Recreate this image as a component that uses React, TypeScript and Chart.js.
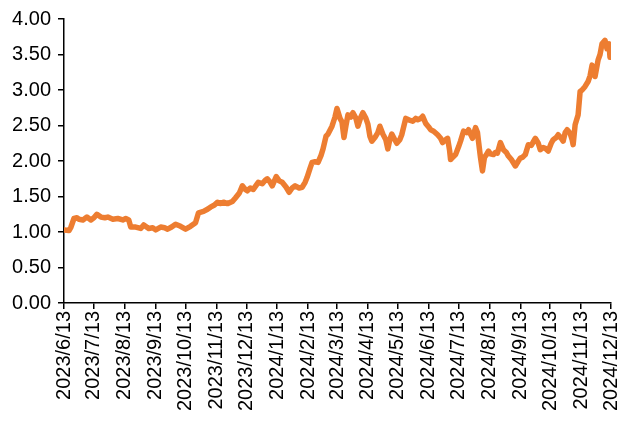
import React, { useEffect, useRef } from 'react';
import { Chart, registerables } from 'chart.js';

Chart.register(...registerables);

const dates = [
  '2023/6/13', '2023/6/18', '2023/6/20', '2023/6/23', '2023/6/26', '2023/6/28',
  '2023/7/2', '2023/7/6', '2023/7/10', '2023/7/13', '2023/7/16', '2023/7/20', '2023/7/24', '2023/7/27',
  '2023/8/1', '2023/8/6', '2023/8/11', '2023/8/14', '2023/8/17', '2023/8/19', '2023/8/24', '2023/8/29',
  '2023/9/1', '2023/9/6', '2023/9/10', '2023/9/13', '2023/9/18', '2023/9/22', '2023/9/25', '2023/9/29',
  '2023/10/3', '2023/10/8', '2023/10/13', '2023/10/18', '2023/10/23', '2023/10/26', '2023/10/31',
  '2023/11/4', '2023/11/7', '2023/11/11', '2023/11/14', '2023/11/17', '2023/11/20', '2023/11/24', '2023/11/29',
  '2023/12/2', '2023/12/6', '2023/12/9', '2023/12/12', '2023/12/14', '2023/12/17', '2023/12/20', '2023/12/23', '2023/12/25', '2023/12/29',
  '2024/1/1', '2024/1/3', '2024/1/6', '2024/1/8', '2024/1/12', '2024/1/15', '2024/1/18', '2024/1/22', '2024/1/25', '2024/1/28', '2024/1/31',
  '2024/2/4', '2024/2/7', '2024/2/10', '2024/2/12', '2024/2/15', '2024/2/17', '2024/2/20', '2024/2/23', '2024/2/26', '2024/2/28',
  '2024/3/2', '2024/3/4', '2024/3/8', '2024/3/11', '2024/3/13', '2024/3/16', '2024/3/18', '2024/3/20', '2024/3/22', '2024/3/24', '2024/3/27', '2024/3/29',
  '2024/4/1', '2024/4/3', '2024/4/6', '2024/4/8', '2024/4/11', '2024/4/13', '2024/4/15', '2024/4/17', '2024/4/20', '2024/4/23', '2024/4/25', '2024/4/28',
  '2024/5/1', '2024/5/3', '2024/5/5', '2024/5/7', '2024/5/10', '2024/5/12', '2024/5/15', '2024/5/17', '2024/5/21', '2024/5/24', '2024/5/28', '2024/5/31',
  '2024/6/2', '2024/6/5', '2024/6/7', '2024/6/10', '2024/6/13', '2024/6/15', '2024/6/18', '2024/6/22', '2024/6/25', '2024/6/27', '2024/6/30',
  '2024/7/2', '2024/7/4', '2024/7/5', '2024/7/7', '2024/7/10', '2024/7/13', '2024/7/15', '2024/7/18', '2024/7/21', '2024/7/23', '2024/7/25', '2024/7/27', '2024/7/30',
  '2024/8/1', '2024/8/2', '2024/8/4', '2024/8/6', '2024/8/8', '2024/8/10', '2024/8/12', '2024/8/14', '2024/8/17', '2024/8/19', '2024/8/21', '2024/8/24', '2024/8/27', '2024/8/30',
  '2024/9/1', '2024/9/4', '2024/9/8', '2024/9/11', '2024/9/13', '2024/9/15', '2024/9/18', '2024/9/21', '2024/9/24', '2024/9/28',
  '2024/10/1', '2024/10/3', '2024/10/6', '2024/10/8', '2024/10/11', '2024/10/14', '2024/10/16', '2024/10/19', '2024/10/21', '2024/10/24', '2024/10/26', '2024/10/28', '2024/10/30',
  '2024/11/2', '2024/11/4', '2024/11/5', '2024/11/7', '2024/11/10', '2024/11/12', '2024/11/14', '2024/11/17', '2024/11/20', '2024/11/22', '2024/11/24', '2024/11/27', '2024/11/30',
  '2024/12/2', '2024/12/4', '2024/12/7', '2024/12/9', '2024/12/11', '2024/12/12',
];

const values = [
  1.03, 1.02, 1.07, 1.19, 1.20, 1.18,
  1.17, 1.21, 1.17, 1.20, 1.25, 1.21, 1.20, 1.21,
  1.18, 1.19, 1.17, 1.19, 1.17, 1.07, 1.07, 1.05,
  1.10, 1.05, 1.06, 1.03, 1.07, 1.06, 1.04, 1.07,
  1.11, 1.08, 1.04, 1.08, 1.13, 1.27, 1.29,
  1.32, 1.35, 1.38, 1.42, 1.40, 1.42, 1.40, 1.43,
  1.48, 1.55, 1.65, 1.60, 1.58, 1.62, 1.60, 1.66, 1.70, 1.68,
  1.73, 1.75, 1.70, 1.65, 1.78, 1.72, 1.70, 1.63, 1.56, 1.62, 1.65,
  1.62, 1.63, 1.70, 1.77, 1.90, 1.98, 1.99, 1.98, 2.08, 2.17,
  2.35, 2.38, 2.49, 2.62, 2.74, 2.60, 2.55, 2.33, 2.50, 2.65, 2.62, 2.68,
  2.60, 2.49, 2.62, 2.68, 2.60, 2.52, 2.35, 2.28, 2.33, 2.40, 2.49, 2.38,
  2.30, 2.17, 2.30, 2.38, 2.30, 2.25, 2.30, 2.37, 2.60, 2.58, 2.56, 2.60,
  2.58, 2.60, 2.63, 2.53, 2.48, 2.44, 2.42, 2.37, 2.32, 2.26, 2.30,
  2.32, 2.15, 2.02, 2.05, 2.09, 2.20, 2.28, 2.42, 2.40, 2.44, 2.38, 2.32, 2.47,
  2.40, 2.28, 2.05, 1.86, 2.05, 2.09, 2.14, 2.10, 2.09, 2.12, 2.11, 2.26, 2.16, 2.12,
  2.07, 2.02, 1.93, 2.00, 2.04, 2.05, 2.09, 2.23, 2.22, 2.32,
  2.25, 2.16, 2.19, 2.18, 2.14, 2.25, 2.30, 2.33, 2.37, 2.32, 2.28, 2.40, 2.44,
  2.39, 2.30, 2.23, 2.51, 2.65, 2.98, 3.00, 3.05, 3.12, 3.20, 3.35, 3.19, 3.42,
  3.50, 3.65, 3.70, 3.58, 3.65, 3.46,
];

const tickLabels = [
  '2023/6/13', '2023/7/13', '2023/8/13', '2023/9/13', '2023/10/13', '2023/11/13', '2023/12/13',
  '2024/1/13', '2024/2/13', '2024/3/13', '2024/4/13', '2024/5/13', '2024/6/13', '2024/7/13',
  '2024/8/13', '2024/9/13', '2024/10/13', '2024/11/13', '2024/12/13',
];

const yMin = 0;
const yMax = 4;
const yStep = 0.5;

function dayNum(s: string): number {
  const [y, m, d] = s.split('/').map(Number);
  return Math.round(Date.UTC(y, m - 1, d) / 86400000);
}

export default function App() {
  const ref = useRef<HTMLCanvasElement | null>(null);

  useEffect(() => {
    document.body.style.margin = '0';
    const base = dayNum(tickLabels[0]);
    const pts = dates.map((d, i) => ({ x: dayNum(d) - base, y: values[i] }));
    const tickVals = tickLabels.map((t) => dayNum(t) - base);
    const font = { family: "'Liberation Sans', Arial, sans-serif", size: 20 };

    const chart = new Chart(ref.current as HTMLCanvasElement, {
      type: 'line',
      data: {
        datasets: [
          {
            data: pts,
            borderColor: '#ED7D31',
            backgroundColor: '#ED7D31',
            borderWidth: 5.5,
            pointRadius: 0,
            tension: 0,
            borderJoinStyle: 'round',
            borderCapStyle: 'round',
          },
        ],
      },
      options: {
        animation: false,
        responsive: false,
        maintainAspectRatio: false,
        layout: { padding: { left: 0, right: 8, top: 17, bottom: 0 } },
        plugins: { legend: { display: false }, tooltip: { enabled: false } },
        scales: {
          x: {
            type: 'linear',
            min: 0,
            max: tickVals[tickVals.length - 1],
            afterBuildTicks: (s: any) => {
              s.ticks = tickVals.map((v) => ({ value: v }));
            },
            afterFit: (s: any) => {
              s.height = 122;
              s.paddingLeft = 0;
              s.paddingRight = 0;
            },
            ticks: {
              autoSkip: false,
              maxRotation: 90,
              minRotation: 90,
              padding: 2,
              color: '#000',
              font,
              callback: (v: any) => {
                const i = tickVals.indexOf(Number(v));
                return i >= 0 ? tickLabels[i] : '';
              },
            },
            grid: { drawOnChartArea: false, drawTicks: true, tickLength: 6, color: '#000', lineWidth: 1.5 },
            border: { display: true, color: '#000', width: 1.5 },
          },
          y: {
            min: yMin,
            max: yMax,
            afterFit: (s: any) => {
              s.width = 64;
            },
            ticks: {
              stepSize: yStep,
              padding: 7,
              color: '#000',
              font,
              callback: (v: any) => Number(v).toFixed(2),
            },
            grid: { drawOnChartArea: false, drawTicks: true, tickLength: 6, color: '#000', lineWidth: 1.5 },
            border: { display: true, color: '#000', width: 1.5 },
          },
        },
      },
    } as any);

    return () => chart.destroy();
  }, []);

  return (
    <div style={{ width: 619, height: 425 }}>
      <canvas ref={ref} width={619} height={425} style={{ display: 'block', width: 619, height: 425 }} />
    </div>
  );
}
